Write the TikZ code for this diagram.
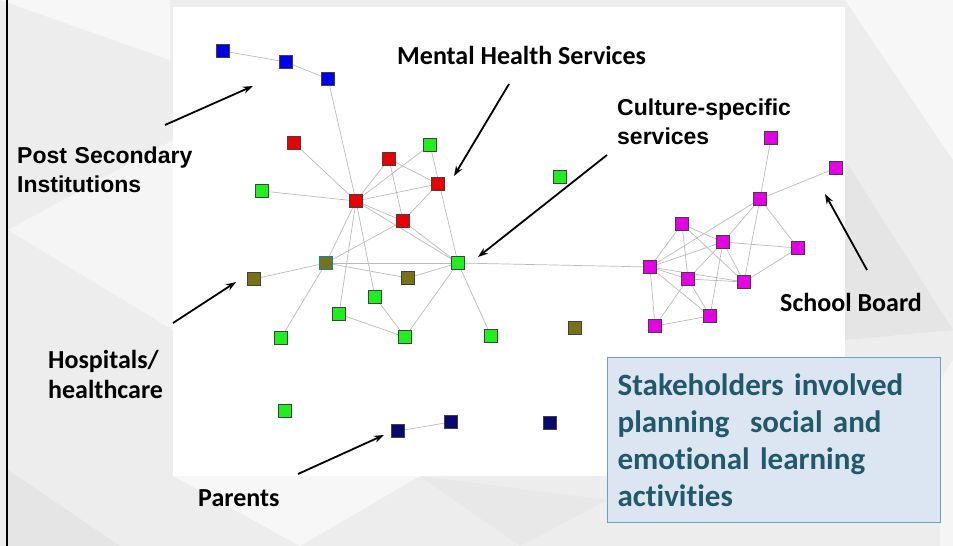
\documentclass[tikz,border=0pt]{standalone}
\usepackage{fontspec}
\newfontfamily\calibri[Ligatures=NoCommon]{Carlito}
\newfontfamily\arial{Liberation Sans}
\usetikzlibrary{arrows.meta,positioning}

\definecolor{nred}{RGB}{235,0,0}
\definecolor{ngreen}{RGB}{30,240,30}
\definecolor{nblue}{RGB}{0,0,235}
\definecolor{nmagenta}{RGB}{230,0,230}
\definecolor{nolive}{RGB}{120,114,22}
\definecolor{nnavy}{RGB}{8,8,112}
\definecolor{notefill}{RGB}{220,230,242}
\definecolor{noteline}{RGB}{110,160,182}
\definecolor{notetext}{RGB}{33,89,104}

\pgfdeclarelayer{back}
\pgfdeclarelayer{links}
\pgfsetlayers{back,links,main}

\tikzset{
	vtx/.style={rectangle, draw=black!75, line width=0.6pt, minimum size=12.5pt, inner sep=0pt},
	link/.style={draw=black!27, line width=0.7pt},
	pointer/.style={-{Stealth[length=10pt,width=7pt]}, line width=1.8pt},
	cal/.style={font=\calibri\bfseries\fontsize{26}{31}\selectfont, inner sep=0pt, anchor=base west},
	ari/.style={font=\arial\bfseries\fontsize{23}{29}\selectfont, inner sep=0pt, anchor=base west},
}

\begin{document}
\begin{tikzpicture}[x=1pt,y=-1pt]

	\useasboundingbox (0,0) rectangle (953,546);

	\begin{pgfonlayer}{back}
		\fill[black!7] (0,0) rectangle (953,546);
		\fill[black!3] (0,0) -- (170,0) -- (170,60) -- cycle;
		\fill[black!4] (8,230) -- (173,140) -- (173,330) -- cycle;
		\fill[black!10] (8,470) -- (120,546) -- (8,546) -- cycle;
		\fill[black!3] (173,476) -- (420,476) -- (300,546) -- cycle;
		\fill[black!9] (420,476) -- (607,500) -- (520,546) -- cycle;
		\fill[black!3] (845,0) -- (953,0) -- (953,160) -- cycle;
		\fill[black!10] (845,160) -- (953,330) -- (845,340) -- cycle;
		\fill[black!4] (940,380) -- (953,360) -- (953,546) -- (940,546) -- cycle;
		\fill[white] (173,7) rectangle (845,476);
		\fill[black] (5.5,0) rectangle (8,546);
	\end{pgfonlayer}

	% post secondary
	\node[vtx, fill=nblue] (b1) at (223,51) {};
	\node[vtx, fill=nblue] (b2) at (286,62) {};
	\node[vtx, fill=nblue] (b3) at (328,79) {};

	% mental health
	\node[vtx, fill=nred] (r1) at (294,143) {};
	\node[vtx, fill=nred] (r2) at (389,159) {};
	\node[vtx, fill=nred] (r3) at (438,184) {};
	\node[vtx, fill=nred] (rc) at (356,201) {};
	\node[vtx, fill=nred] (r4) at (403,221) {};

	% culture specific
	\node[vtx, fill=ngreen] (g1) at (430,145) {};
	\node[vtx, fill=ngreen] (g2) at (262,191) {};
	\node[vtx, fill=ngreen] (g3) at (560,177) {};
	\node[vtx, fill=ngreen] (gc) at (458,263) {};
	\node[vtx, fill=ngreen] (g4) at (375,297) {};
	\node[vtx, fill=ngreen] (g5) at (339,314) {};
	\node[vtx, fill=ngreen] (g6) at (281,338) {};
	\node[vtx, fill=ngreen] (g7) at (405,337) {};
	\node[vtx, fill=ngreen] (g8) at (491,336) {};
	\node[vtx, fill=ngreen] (g9) at (285,411) {};

	% hospitals
	\node[vtx, fill=nolive, draw=cyan!60!blue] (ob) at (326,263) {};
	\node[vtx, fill=nolive] (o1) at (254,279) {};
	\node[vtx, fill=nolive] (o2) at (408,278) {};
	\node[vtx, fill=nolive] (o3) at (575,328) {};

	% school board
	\foreach \n/\x/\y in {m1/771/138, m2/836/168, m3/760/199, m4/682/224, m5/723/242, m6/798/248,
		m7/650/267, m8/688/279, m9/744/282, m10/710/316, m11/655/326} {
		\node[vtx, fill=nmagenta] (\n) at (\x,\y) {};
	}

	% parents
	\node[vtx, fill=nnavy] (n1) at (398,431) {};
	\node[vtx, fill=nnavy] (n2) at (451,422) {};
	\node[vtx, fill=nnavy] (n3) at (550,423) {};

	\begin{pgfonlayer}{links}
		\foreach \a/\b in {b1/b2, b2/b3, b3/rc, r1/rc, g2/rc, rc/r2, rc/g1, rc/r3, rc/r4, rc/gc,
			rc/ob, rc/g5, rc/g4, r2/r3, r2/r4, r3/r4, g1/gc, r4/gc, r4/ob, ob/gc, ob/o1, ob/o2,
			o2/gc, ob/g6, g5/g7, g4/g7, g7/gc, gc/g8, gc/m7,
			m1/m3, m2/m3, m3/m7, m3/m5, m3/m6, m3/m9, m4/m5, m4/m8, m4/m9, m4/m7, m5/m6, m5/m7,
			m5/m8, m5/m9, m5/m10, m6/m9, m7/m8, m7/m9, m7/m10, m7/m11, m8/m9, m8/m10, m8/m11,
			m10/m11, n1/n2}
			\draw[link] (\a) -- (\b);
	\end{pgfonlayer}

	\node[cal] (mhs) at (397,64) {Mental Health Services};
	\node[ari, text width=200pt] (css) at (617,115) {Culture-specific\\services};
	\node[ari, text width=200pt] (psi) at (17,163) {Post Secondary\\Institutions};
	\node[cal, text width=150pt, font=\calibri\bfseries\fontsize{26}{30}\selectfont] (hos) at (48,368) {Hospitals/\\healthcare};
	\node[cal] (par) at (198,506) {Parents};
	\node[cal] (sch) at (780,311) {School Board};

	\node[anchor=north west, fill=notefill, draw=noteline, line width=1.2pt, minimum width=333pt,
		minimum height=165pt, text width=313pt, inner xsep=10pt, inner ysep=0pt, align=left,
		text=notetext, font=\calibri\bfseries\fontsize{31}{37}\selectfont] (note) at (607,357)
		{Stakeholders involved\\planning\ \ social and\\emotional learning\\activities};

	\coordinate (psT) at (165,125);
	\coordinate (psH) at (253,86);
	\coordinate (mhT) at (509,84);
	\coordinate (mhH) at (454,176);
	\coordinate (csT) at (607,155);
	\coordinate (csH) at (478,257);
	\coordinate (hoT) at (173,323);
	\coordinate (hoH) at (236,282);
	\coordinate (paT) at (298,474);
	\coordinate (paH) at (384,435);
	\coordinate (sbT) at (867,270);
	\coordinate (sbH) at (825,194);

	\foreach \s in {ps,mh,cs,ho,pa,sb}
		\draw[pointer] (\s T) -- (\s H);

\end{tikzpicture}
\end{document}
